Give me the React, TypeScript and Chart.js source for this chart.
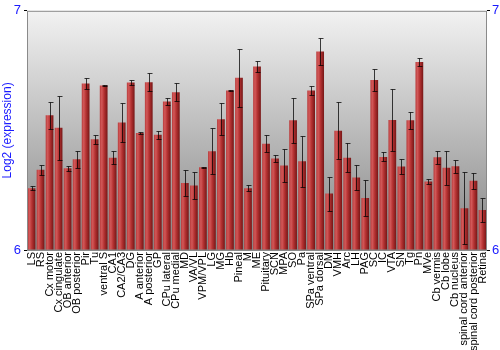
import React, { useEffect, useRef } from "react";
import { Chart, registerables } from "chart.js";

Chart.register(...registerables);

const categories = [
  "LS", "RS", "Cx motor", "Cx cingulate", "OB anterior", "OB posterior", "Pir", "Tu",
  "ventral S", "CA1", "CA2/CA3", "DG", "A anterior", "A posterior", "GP", "CPu lateral",
  "CPu medial", "MD", "VA/VL", "VPM/VPL", "LG", "MG", "Hb", "Pineal", "M", "ME",
  "Pituitary", "SCN", "MPA", "SO", "Pa", "SPa ventral", "SPa dorsal", "DM", "VMH",
  "Arc", "LH", "PAG", "SC", "IC", "VTA", "SN", "Tg", "Pn", "MVe", "Cb vermis",
  "Cb lobe", "Cb nucleus", "spinal cord anterior", "spinal cord posterior", "Retina",
];

const expression = [
  6.258, 6.336, 6.563, 6.511, 6.342, 6.379, 6.696, 6.463,
  6.688, 6.386, 6.533, 6.7, 6.489, 6.701, 6.482, 6.621,
  6.66, 6.28, 6.27, 6.346, 6.413, 6.547, 6.667, 6.72, 6.258, 6.767,
  6.444, 6.383, 6.353, 6.542, 6.371, 6.667, 6.83, 6.236, 6.499,
  6.386, 6.303, 6.217, 6.711, 6.389, 6.543, 6.349, 6.542, 6.786, 6.286, 6.388,
  6.344, 6.35, 6.175, 6.289, 6.167,
];

const errors = [
  0.008, 0.021, 0.056, 0.133, 0.010, 0.035, 0.022, 0.018,
  0.003, 0.027, 0.080, 0.010, 0.006, 0.038, 0.017, 0.014,
  0.037, 0.054, 0.057, 0.003, 0.095, 0.067, 0.003, 0.121, 0.012, 0.024,
  0.035, 0.016, 0.068, 0.093, 0.106, 0.017, 0.056, 0.071, 0.118,
  0.061, 0.054, 0.074, 0.046, 0.019, 0.131, 0.031, 0.035, 0.016, 0.010, 0.027,
  0.071, 0.028, 0.15, 0.033, 0.052,
];

const yMin = 6;
const yMax = 7;

const bgPlugin = {
  id: "bgPlugin",
  beforeDatasetsDraw(chart: any) {
    const { ctx, chartArea } = chart;
    const g = ctx.createLinearGradient(0, chartArea.top, 0, chartArea.bottom);
    g.addColorStop(0, "#f2f2f2");
    g.addColorStop(1, "#858585");
    ctx.save();
    ctx.fillStyle = g;
    ctx.fillRect(chartArea.left, chartArea.top, chartArea.right - chartArea.left, chartArea.bottom - chartArea.top);
    ctx.restore();
  },
  afterDatasetsDraw(chart: any) {
    const { ctx, chartArea } = chart;
    const xs = chart.scales.x;
    const ys = chart.scales.y;
    ctx.save();
    ctx.lineWidth = 1;
    ctx.strokeStyle = "rgba(0,0,0,0.75)";
    expression.forEach((v, i) => {
      const x = Math.round(xs.getPixelForValue(i)) + 0.5;
      const yT = Math.round(ys.getPixelForValue(v + errors[i])) + 0.5;
      const yB = Math.round(ys.getPixelForValue(v - errors[i])) + 0.5;
      ctx.beginPath();
      ctx.moveTo(x, yT);
      ctx.lineTo(x, yB);
      ctx.moveTo(x - 2, yT);
      ctx.lineTo(x + 3, yT);
      ctx.moveTo(x - 2, yB);
      ctx.lineTo(x + 3, yB);
      ctx.stroke();
    });
    ctx.strokeStyle = "#8a8a8a";
    ctx.strokeRect(chartArea.left + 0.5, chartArea.top + 0.5, chartArea.right - chartArea.left - 1, chartArea.bottom - chartArea.top);
    ctx.restore();
  },
};

function barColor(c: any) {
  const chart = c.chart;
  const xs = chart.scales.x;
  if (!xs || !chart.chartArea) return "#b03030";
  const slot = (xs.right - xs.left) / categories.length;
  const w = slot * 0.86;
  const cx = xs.getPixelForValue(c.dataIndex);
  const g = chart.ctx.createLinearGradient(cx - w / 2, 0, cx + w / 2, 0);
  g.addColorStop(0, "#b83c3c");
  g.addColorStop(0.25, "#d25858");
  g.addColorStop(0.55, "#b53232");
  g.addColorStop(1, "#761616");
  return g;
}

export default function App() {
  const ref = useRef<HTMLCanvasElement>(null);
  useEffect(() => {
    if (!ref.current) return;
    const chart = new Chart(ref.current, {
      type: "bar",
      data: {
        labels: categories,
        datasets: [
          {
            data: expression,
            backgroundColor: barColor as any,
            borderWidth: 0,
            barPercentage: 0.86,
            categoryPercentage: 1,
            base: yMin,
          },
        ],
      },
      plugins: [bgPlugin],
      options: {
        animation: false,
        responsive: false,
        layout: { padding: { top: 10, left: 0, right: 0, bottom: 0 } },
        plugins: { legend: { display: false }, tooltip: { enabled: false } },
        scales: {
          x: {
            grid: { display: false, drawTicks: false },
            border: { display: false },
            ticks: {
              autoSkip: false,
              minRotation: 90,
              maxRotation: 90,
              padding: 2,
              color: "#000",
              font: { family: "Liberation Sans, Arial, sans-serif", size: 11 },
            },
            afterFit(s: any) {
              s.height = 100;
            },
          },
          y: {
            position: "left",
            min: yMin,
            max: yMax,
            grid: { drawOnChartArea: false, tickLength: 3, color: "#000" },
            border: { display: false },
            ticks: {
              stepSize: 1,
              padding: 3,
              color: "#1a1aff",
              font: { family: "Liberation Sans, Arial, sans-serif", size: 13 },
            },
            title: {
              display: true,
              text: "Log2 (expression)",
              color: "#1a1aff",
              padding: { top: 0, bottom: 0 },
              font: { family: "Liberation Sans, Arial, sans-serif", size: 12 },
            },
            afterFit(s: any) {
              s.width = 27;
            },
          },
          y2: {
            position: "right",
            min: yMin,
            max: yMax,
            grid: { drawOnChartArea: false, tickLength: 3, color: "#000" },
            border: { display: false },
            ticks: {
              stepSize: 1,
              padding: 2,
              color: "#1a1aff",
              font: { family: "Liberation Sans, Arial, sans-serif", size: 13 },
            },
            afterFit(s: any) {
              s.width = 13;
            },
          },
        },
      },
    });
    return () => chart.destroy();
  }, []);
  return (
    <div style={{ position: "absolute", left: 0, top: 0, width: 500, height: 350, background: "#fff" }}>
      <canvas ref={ref} width={500} height={350} style={{ width: 500, height: 350 }} />
    </div>
  );
}
